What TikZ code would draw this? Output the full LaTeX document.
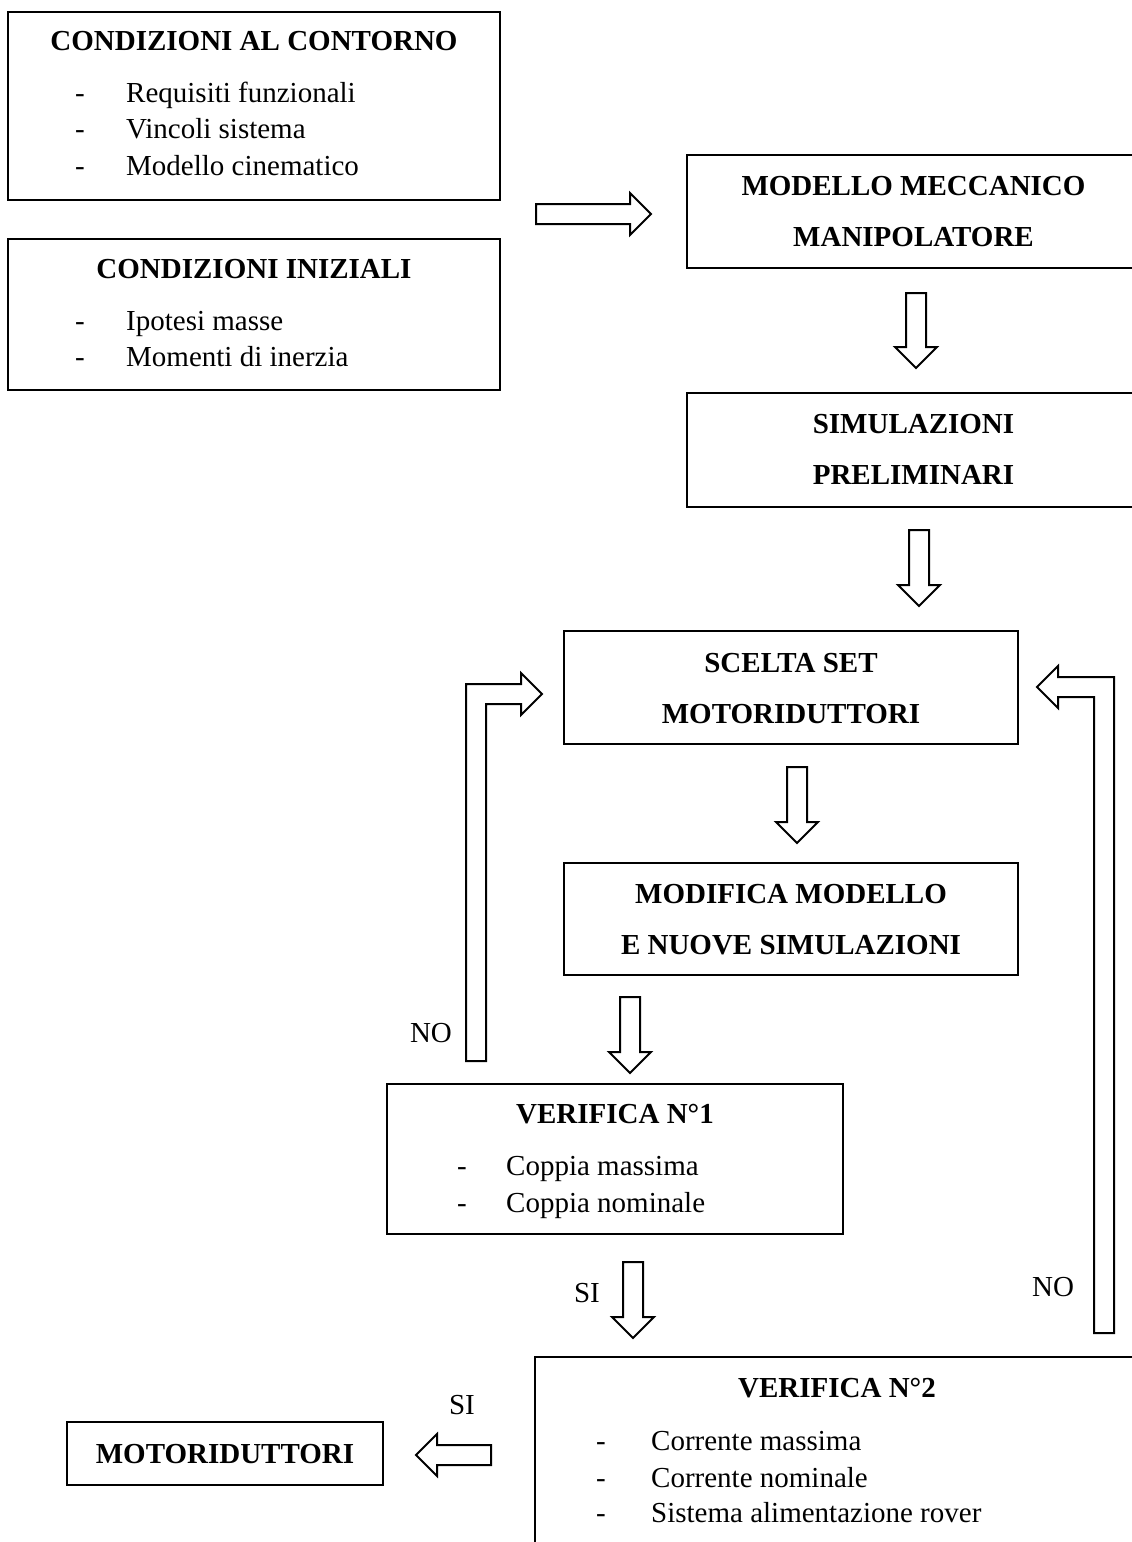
\documentclass[tikz,border=0pt]{standalone}
\usepackage{fontspec}
\setmainfont{Liberation Serif}
\usetikzlibrary{calc}
% hollow block arrows: shaft 20 wide, head 42 wide and 21 long
\newcommand\blkdown[4]{% name, centre x, top y, tip y
  \coordinate (#1) at (#2,#4);
  \draw[blk] (#2-10,#3) -- (#2+10,#3) -- (#2+10,#4-21) -- (#2+21,#4-21)
    -- (#1) -- (#2-21,#4-21) -- (#2-10,#4-21) -- cycle;}
\newcommand\blkright[4]{% name, centre y, tail x, tip x
  \coordinate (#1) at (#4,#2);
  \draw[blk] (#3,#2-10) -- (#3,#2+10) -- (#4-21,#2+10) -- (#4-21,#2+21)
    -- (#1) -- (#4-21,#2-21) -- (#4-21,#2-10) -- cycle;}
\newcommand\blkleft[4]{% name, centre y, tail x, tip x
  \coordinate (#1) at (#4,#2);
  \draw[blk] (#3,#2-10) -- (#3,#2+10) -- (#4+21,#2+10) -- (#4+21,#2+21)
    -- (#1) -- (#4+21,#2-21) -- (#4+21,#2-10) -- cycle;}
\begin{document}
\begin{tikzpicture}[x=1pt,y=-1pt,
  txt/.style={inner sep=0pt,font=\fontsize{29}{35}\selectfont},
  ttl/.style={inner sep=0pt,font=\fontsize{29}{35}\selectfont\bfseries},
  box/.style={draw,line width=2.4pt,inner sep=0pt,outer sep=0pt},
  blk/.style={draw,line width=2pt,line join=miter}]
\clip (0,0) rectangle (1132,1542);

% ---- boxes ----
\node[box,minimum width=492pt,minimum height=188pt] (cc) at (254,106) {};
\node[box,minimum width=492pt,minimum height=151pt] (ci) at (254,314.5) {};
\node[box,minimum width=453pt,minimum height=113pt] (mm) at (913.5,211.5) {};
\node[box,minimum width=453pt,minimum height=114pt] (sp) at (913.5,450) {};
\node[box,minimum width=454pt,minimum height=113pt] (sc) at (791,687.5) {};
\node[box,minimum width=454pt,minimum height=112pt] (mo) at (791,919) {};
\node[box,minimum width=456pt,minimum height=150pt] (v1) at (615,1159) {};
\node[box,minimum width=604pt,minimum height=203pt] (v2) at (837,1458.5) {};
\node[box,minimum width=316pt,minimum height=63pt] (mr) at (225,1453.5) {};

% ---- box texts ----
\node[ttl,anchor=base] (cct) at (254,50) {CONDIZIONI AL CONTORNO};
\node[txt,anchor=base] at (80,102) {-};
\node[txt,anchor=base west] at (126,102) {Requisiti funzionali};
\node[txt,anchor=base] at (80,138) {-};
\node[txt,anchor=base west] at (126,138) {Vincoli sistema};
\node[txt,anchor=base] at (80,175) {-};
\node[txt,anchor=base west] at (126,175) {Modello cinematico};

\node[ttl,anchor=base] (cit) at (254,278) {CONDIZIONI INIZIALI};
\node[txt,anchor=base] at (80,330) {-};
\node[txt,anchor=base west] at (126,330) {Ipotesi masse};
\node[txt,anchor=base] at (80,366) {-};
\node[txt,anchor=base west] at (126,366) {Momenti di inerzia};

\node[ttl,anchor=base] at (913.5,195) {MODELLO MECCANICO};
\node[ttl,anchor=base] at (913.5,246) {MANIPOLATORE};

\node[ttl,anchor=base] at (913.5,433) {SIMULAZIONI};
\node[ttl,anchor=base] at (913.5,484) {PRELIMINARI};

\node[ttl,anchor=base] at (791,672) {SCELTA SET};
\node[ttl,anchor=base] at (791,723) {MOTORIDUTTORI};

\node[ttl,anchor=base] at (791,903) {MODIFICA MODELLO};
\node[ttl,anchor=base] at (791,954) {E NUOVE SIMULAZIONI};

\node[ttl,anchor=base] at (615,1123) {VERIFICA N°1};
\node[txt,anchor=base] at (462,1175) {-};
\node[txt,anchor=base west] at (506,1175) {Coppia massima};
\node[txt,anchor=base] at (462,1212) {-};
\node[txt,anchor=base west] at (506,1212) {Coppia nominale};

\node[ttl,anchor=base] at (837,1397) {VERIFICA N°2};
\node[txt,anchor=base] at (601,1450) {-};
\node[txt,anchor=base west] at (651,1450) {Corrente massima};
\node[txt,anchor=base] at (601,1487) {-};
\node[txt,anchor=base west] at (651,1487) {Corrente nominale};
\node[txt,anchor=base] at (601,1522) {-};
\node[txt,anchor=base west] at (651,1522) {Sistema alimentazione rover};

\node[ttl,anchor=base] at (225,1463) {MOTORIDUTTORI};

% ---- straight block arrows ----
\blkright{a1}{214}{536}{651}
\blkdown{a2}{916}{293}{368}
\blkdown{a3}{919}{530}{606}
\blkdown{a4}{797}{767}{843}
\blkdown{a5}{630}{997}{1073}
\blkdown{a6}{633}{1262}{1338}
\blkleft{a7}{1455}{491}{416}

% ---- return loops ----
\coordinate (l1tip) at (542,694);
\draw[blk] (466,1061) -- (466,684) -- (521,684) -- (521,673) -- (l1tip)
  -- (521,715) -- (521,704) -- (486,704) -- (486,1061) -- cycle;
\coordinate (l2tip) at (1037,687);
\draw[blk] (1114,1333) -- (1114,677) -- (1058,677) -- (1058,666) -- (l2tip)
  -- (1058,708) -- (1058,697) -- (1094,697) -- (1094,1333) -- cycle;

% ---- branch labels ----
\node[txt] (no1) at (431,1033) {NO};
\node[txt] (no2) at (1053,1287) {NO};
\node[txt] (si1) at (587,1293) {SI};
\node[txt] (si2) at (462,1405) {SI};
\end{tikzpicture}
\end{document}
